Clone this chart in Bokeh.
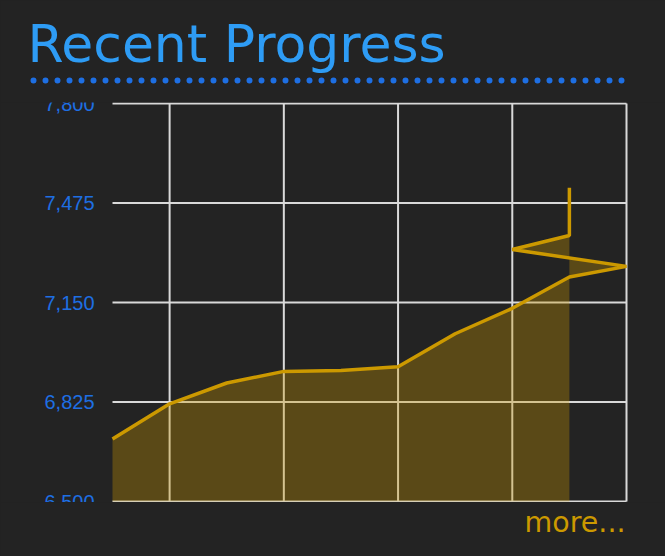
from bokeh.plotting import figure
from bokeh.layouts import column
from bokeh.models import Range1d, Label
from bokeh.core.properties import value
from bokeh.embed import file_html
from bokeh.resources import INLINE

# data
steps = [0, 1, 2, 3, 4, 5, 6, 7, 8, 9, 7, 8, 8]
scores = [6704, 6819, 6887, 6925, 6928, 6940, 7048, 7131, 7233, 7268, 7323, 7369, 7525]
y_ticks = [6500, 6825, 7150, 7475, 7800]
x_ticks = [1, 3, 5, 7, 9]
y_labels = [f"{v:,}" for v in y_ticks]

BG = "#232323"
GOLD = "#cc9900"
BLUE = "#2e9cf5"
DARK_BLUE = "#1e6fe3"
GRID = "#d9d9d9"

W = 665
HEAD_H = 102
CHART_H = 400
FOOT_H = 556 - HEAD_H - CHART_H

# where the plotting area sits on the page
FRAME_L, FRAME_R = 112, 626
FRAME_T, FRAME_B = 103, 501
LABEL_X = 94


def base(height, x_range, y_range):
    f = figure(width=W, height=height, toolbar_location=None, output_backend="svg",
               x_axis_location=None, y_axis_location=None, min_border=0,
               x_range=x_range, y_range=y_range, styles={"background-color": BG})
    f.background_fill_color = BG
    f.border_fill_color = BG
    f.outline_line_color = None
    f.grid.visible = False
    return f


# header: title with dotted rule
head = base(HEAD_H, Range1d(0, W), Range1d(HEAD_H, 0))
head.add_layout(Label(x=27, y=43, text="Recent Progress", text_baseline="alphabetic",
                      text_font="DejaVu Sans", text_font_size="52px", text_color=BLUE))
head.segment(x0=33, y0=80, x1=622, y1=80, line_color=DARK_BLUE, line_width=6,
             line_dash="0 12", line_cap="round")

# chart: ranges set so the frame edges land on the page positions above,
# the tick labels sit inside the frame and get clipped at its top/bottom
x_min, x_max = min(steps), max(steps)
y_min, y_max = y_ticks[0], y_ticks[-1]
sx = (FRAME_R - FRAME_L) / (x_max - x_min)
sy = (FRAME_B - FRAME_T) / (y_max - y_min)
x_range = Range1d(x_min - FRAME_L / sx, x_max + (W - FRAME_R) / sx)
y_range = Range1d(y_min - (HEAD_H + CHART_H - FRAME_B) / sy, y_max + (FRAME_T - HEAD_H) / sy)
p = base(CHART_H, x_range, y_range)

n = len(y_ticks)
p.segment(x0=[x_min] * n, y0=y_ticks, x1=[x_max] * n, y1=y_ticks,
          line_color=GRID, line_width=2)
m = len(x_ticks)
p.segment(x0=x_ticks, y0=[y_min] * m, x1=x_ticks, y1=[y_max] * m,
          line_color=GRID, line_width=2)

p.text(x=[x_min + (LABEL_X - FRAME_L) / sx] * n, y=y_ticks, text=y_labels,
       text_align="right", text_baseline="middle", text_color=DARK_BLUE,
       text_font=value("Liberation Sans"), text_font_size="20px")

fill_x = steps + [steps[-1], steps[0]]
fill_y = scores + [y_min, y_min]
p.patch(fill_x, fill_y, fill_color=GOLD, fill_alpha=0.33, line_color=None)
p.line(steps, scores, line_color=GOLD, line_width=3.5)

# footer link
foot = base(FOOT_H, Range1d(0, W), Range1d(FOOT_H, 0))
foot.add_layout(Label(x=625, y=20, text="more...", text_align="right",
                      text_baseline="alphabetic", text_font="DejaVu Sans",
                      text_font_size="28.5px", text_color=GOLD))

layout = column(head, p, foot, styles={"background-color": BG})

open("out.html", "w").write(file_html(layout, INLINE))
